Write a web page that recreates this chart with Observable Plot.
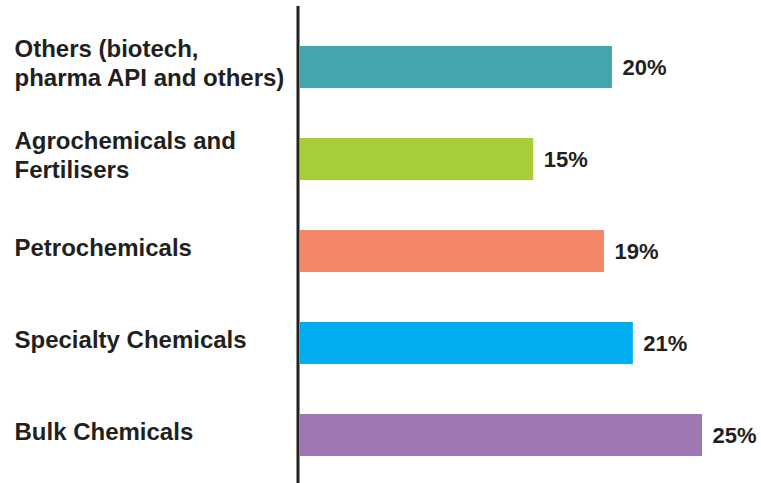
<!DOCTYPE html>
<html>
<head>
<meta charset="utf-8">
<script src="https://cdn.jsdelivr.net/npm/d3@7"></script>
<script src="https://cdn.jsdelivr.net/npm/@observablehq/plot@0.6"></script>
<style>
  html, body { margin: 0; padding: 0; background: #fff; }
  svg { display: block; }
</style>
</head>
<body>
<div id="chart"></div>
<script>
const categories = [
  "Others (biotech,\npharma API and others)",
  "Agrochemicals and\nFertilisers",
  "Petrochemicals",
  "Specialty Chemicals",
  "Bulk Chemicals"
];
const values = [19.4, 14.5, 18.9, 20.7, 25.0];
const valueLabels = ["20%", "15%", "19%", "21%", "25%"];
const colors = ["#45a5ae", "#a6ce39", "#f4876a", "#00aeef", "#9e77b3"];

const data = categories.map((c, i) => ({category: c, value: values[i], label: valueLabels[i], color: colors[i]}));

const chart = Plot.plot({
  width: 761,
  height: 483,
  marginTop: 6,
  marginBottom: 0,
  marginLeft: 0,
  marginRight: 0,
  style: {fontFamily: "'Liberation Sans', Arial, sans-serif", background: "#fff"},
  x: {domain: [0, 25], range: [300, 702], axis: null},
  y: {domain: categories, range: [45, 456], paddingInner: 0.545, paddingOuter: 0, axis: null},
  marks: [
    Plot.barX(data, {y: "category", x: "value", fill: "color"}),
    Plot.ruleX([0], {stroke: "#231f20", strokeWidth: 3, dx: -2.5}),
    Plot.text(data, {
      y: "category", text: "category", frameAnchor: "left", dx: 14, textAnchor: "start",
      fontSize: 24, fontWeight: "bold", fill: "#231f20", lineHeight: 1.17, dy: -5
    }),
    Plot.text(data, {
      y: "category", x: "value", text: "label", dx: 10, textAnchor: "start",
      fontSize: 22, fontWeight: "bold", fill: "#231f20", dy: 0
    })
  ]
});
document.getElementById("chart").appendChild(chart);
</script>
</body>
</html>
